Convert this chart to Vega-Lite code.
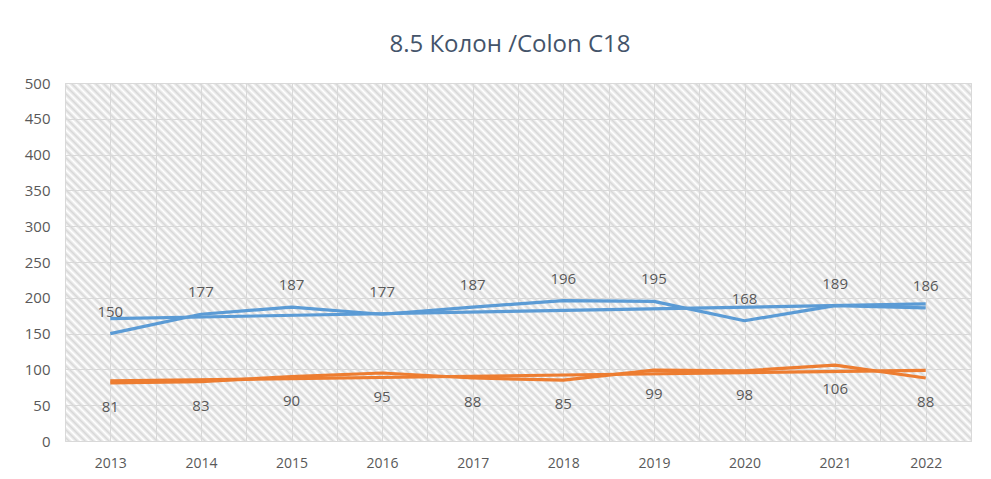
{
  "$schema": "https://vega.github.io/schema/vega-lite/v6.json",
  "width": 906,
  "height": 358,
  "autosize": {"type": "none"},
  "padding": {"left": 65, "top": 83, "right": 20, "bottom": 38},
  "background": "white",
  "title": {"text": "8.5 Колон /Colon C18", "anchor": "middle", "dx": -8, "offset": 0, "baseline": "alphabetic", "font": "Open Sans", "fontSize": 24, "fontWeight": "normal", "color": "#44546a"},
  "config": {
    "view": {
      "stroke": "#d9d9d9",
      "fill": {"gradient": "linear", "x1": 0, "y1": 1, "x2": 1.222, "y2": 0.5171, "stops": [
        {"offset":0,"color":"#fff"},{"offset":0.003125,"color":"#d8d8d8"},{"offset":0.00625,"color":"#fff"},{"offset":0.009375,"color":"#d8d8d8"},{"offset":0.0125,"color":"#fff"},{"offset":0.015625,"color":"#d8d8d8"},{"offset":0.01875,"color":"#fff"},{"offset":0.021875,"color":"#d8d8d8"},
        {"offset":0.025,"color":"#fff"},{"offset":0.028125,"color":"#d8d8d8"},{"offset":0.03125,"color":"#fff"},{"offset":0.034375,"color":"#d8d8d8"},{"offset":0.0375,"color":"#fff"},{"offset":0.040625,"color":"#d8d8d8"},{"offset":0.04375,"color":"#fff"},{"offset":0.046875,"color":"#d8d8d8"},
        {"offset":0.05,"color":"#fff"},{"offset":0.053125,"color":"#d8d8d8"},{"offset":0.05625,"color":"#fff"},{"offset":0.059375,"color":"#d8d8d8"},{"offset":0.0625,"color":"#fff"},{"offset":0.065625,"color":"#d8d8d8"},{"offset":0.06875,"color":"#fff"},{"offset":0.071875,"color":"#d8d8d8"},
        {"offset":0.075,"color":"#fff"},{"offset":0.078125,"color":"#d8d8d8"},{"offset":0.08125,"color":"#fff"},{"offset":0.084375,"color":"#d8d8d8"},{"offset":0.0875,"color":"#fff"},{"offset":0.090625,"color":"#d8d8d8"},{"offset":0.09375,"color":"#fff"},{"offset":0.096875,"color":"#d8d8d8"},
        {"offset":0.1,"color":"#fff"},{"offset":0.103125,"color":"#d8d8d8"},{"offset":0.10625,"color":"#fff"},{"offset":0.109375,"color":"#d8d8d8"},{"offset":0.1125,"color":"#fff"},{"offset":0.115625,"color":"#d8d8d8"},{"offset":0.11875,"color":"#fff"},{"offset":0.121875,"color":"#d8d8d8"},
        {"offset":0.125,"color":"#fff"},{"offset":0.128125,"color":"#d8d8d8"},{"offset":0.13125,"color":"#fff"},{"offset":0.134375,"color":"#d8d8d8"},{"offset":0.1375,"color":"#fff"},{"offset":0.140625,"color":"#d8d8d8"},{"offset":0.14375,"color":"#fff"},{"offset":0.146875,"color":"#d8d8d8"},
        {"offset":0.15,"color":"#fff"},{"offset":0.153125,"color":"#d8d8d8"},{"offset":0.15625,"color":"#fff"},{"offset":0.159375,"color":"#d8d8d8"},{"offset":0.1625,"color":"#fff"},{"offset":0.165625,"color":"#d8d8d8"},{"offset":0.16875,"color":"#fff"},{"offset":0.171875,"color":"#d8d8d8"},
        {"offset":0.175,"color":"#fff"},{"offset":0.178125,"color":"#d8d8d8"},{"offset":0.18125,"color":"#fff"},{"offset":0.184375,"color":"#d8d8d8"},{"offset":0.1875,"color":"#fff"},{"offset":0.190625,"color":"#d8d8d8"},{"offset":0.19375,"color":"#fff"},{"offset":0.196875,"color":"#d8d8d8"},
        {"offset":0.2,"color":"#fff"},{"offset":0.203125,"color":"#d8d8d8"},{"offset":0.20625,"color":"#fff"},{"offset":0.209375,"color":"#d8d8d8"},{"offset":0.2125,"color":"#fff"},{"offset":0.215625,"color":"#d8d8d8"},{"offset":0.21875,"color":"#fff"},{"offset":0.221875,"color":"#d8d8d8"},
        {"offset":0.225,"color":"#fff"},{"offset":0.228125,"color":"#d8d8d8"},{"offset":0.23125,"color":"#fff"},{"offset":0.234375,"color":"#d8d8d8"},{"offset":0.2375,"color":"#fff"},{"offset":0.240625,"color":"#d8d8d8"},{"offset":0.24375,"color":"#fff"},{"offset":0.246875,"color":"#d8d8d8"},
        {"offset":0.25,"color":"#fff"},{"offset":0.253125,"color":"#d8d8d8"},{"offset":0.25625,"color":"#fff"},{"offset":0.259375,"color":"#d8d8d8"},{"offset":0.2625,"color":"#fff"},{"offset":0.265625,"color":"#d8d8d8"},{"offset":0.26875,"color":"#fff"},{"offset":0.271875,"color":"#d8d8d8"},
        {"offset":0.275,"color":"#fff"},{"offset":0.278125,"color":"#d8d8d8"},{"offset":0.28125,"color":"#fff"},{"offset":0.284375,"color":"#d8d8d8"},{"offset":0.2875,"color":"#fff"},{"offset":0.290625,"color":"#d8d8d8"},{"offset":0.29375,"color":"#fff"},{"offset":0.296875,"color":"#d8d8d8"},
        {"offset":0.3,"color":"#fff"},{"offset":0.303125,"color":"#d8d8d8"},{"offset":0.30625,"color":"#fff"},{"offset":0.309375,"color":"#d8d8d8"},{"offset":0.3125,"color":"#fff"},{"offset":0.315625,"color":"#d8d8d8"},{"offset":0.31875,"color":"#fff"},{"offset":0.321875,"color":"#d8d8d8"},
        {"offset":0.325,"color":"#fff"},{"offset":0.328125,"color":"#d8d8d8"},{"offset":0.33125,"color":"#fff"},{"offset":0.334375,"color":"#d8d8d8"},{"offset":0.3375,"color":"#fff"},{"offset":0.340625,"color":"#d8d8d8"},{"offset":0.34375,"color":"#fff"},{"offset":0.346875,"color":"#d8d8d8"},
        {"offset":0.35,"color":"#fff"},{"offset":0.353125,"color":"#d8d8d8"},{"offset":0.35625,"color":"#fff"},{"offset":0.359375,"color":"#d8d8d8"},{"offset":0.3625,"color":"#fff"},{"offset":0.365625,"color":"#d8d8d8"},{"offset":0.36875,"color":"#fff"},{"offset":0.371875,"color":"#d8d8d8"},
        {"offset":0.375,"color":"#fff"},{"offset":0.378125,"color":"#d8d8d8"},{"offset":0.38125,"color":"#fff"},{"offset":0.384375,"color":"#d8d8d8"},{"offset":0.3875,"color":"#fff"},{"offset":0.390625,"color":"#d8d8d8"},{"offset":0.39375,"color":"#fff"},{"offset":0.396875,"color":"#d8d8d8"},
        {"offset":0.4,"color":"#fff"},{"offset":0.403125,"color":"#d8d8d8"},{"offset":0.40625,"color":"#fff"},{"offset":0.409375,"color":"#d8d8d8"},{"offset":0.4125,"color":"#fff"},{"offset":0.415625,"color":"#d8d8d8"},{"offset":0.41875,"color":"#fff"},{"offset":0.421875,"color":"#d8d8d8"},
        {"offset":0.425,"color":"#fff"},{"offset":0.428125,"color":"#d8d8d8"},{"offset":0.43125,"color":"#fff"},{"offset":0.434375,"color":"#d8d8d8"},{"offset":0.4375,"color":"#fff"},{"offset":0.440625,"color":"#d8d8d8"},{"offset":0.44375,"color":"#fff"},{"offset":0.446875,"color":"#d8d8d8"},
        {"offset":0.45,"color":"#fff"},{"offset":0.453125,"color":"#d8d8d8"},{"offset":0.45625,"color":"#fff"},{"offset":0.459375,"color":"#d8d8d8"},{"offset":0.4625,"color":"#fff"},{"offset":0.465625,"color":"#d8d8d8"},{"offset":0.46875,"color":"#fff"},{"offset":0.471875,"color":"#d8d8d8"},
        {"offset":0.475,"color":"#fff"},{"offset":0.478125,"color":"#d8d8d8"},{"offset":0.48125,"color":"#fff"},{"offset":0.484375,"color":"#d8d8d8"},{"offset":0.4875,"color":"#fff"},{"offset":0.490625,"color":"#d8d8d8"},{"offset":0.49375,"color":"#fff"},{"offset":0.496875,"color":"#d8d8d8"},
        {"offset":0.5,"color":"#fff"},{"offset":0.503125,"color":"#d8d8d8"},{"offset":0.50625,"color":"#fff"},{"offset":0.509375,"color":"#d8d8d8"},{"offset":0.5125,"color":"#fff"},{"offset":0.515625,"color":"#d8d8d8"},{"offset":0.51875,"color":"#fff"},{"offset":0.521875,"color":"#d8d8d8"},
        {"offset":0.525,"color":"#fff"},{"offset":0.528125,"color":"#d8d8d8"},{"offset":0.53125,"color":"#fff"},{"offset":0.534375,"color":"#d8d8d8"},{"offset":0.5375,"color":"#fff"},{"offset":0.540625,"color":"#d8d8d8"},{"offset":0.54375,"color":"#fff"},{"offset":0.546875,"color":"#d8d8d8"},
        {"offset":0.55,"color":"#fff"},{"offset":0.553125,"color":"#d8d8d8"},{"offset":0.55625,"color":"#fff"},{"offset":0.559375,"color":"#d8d8d8"},{"offset":0.5625,"color":"#fff"},{"offset":0.565625,"color":"#d8d8d8"},{"offset":0.56875,"color":"#fff"},{"offset":0.571875,"color":"#d8d8d8"},
        {"offset":0.575,"color":"#fff"},{"offset":0.578125,"color":"#d8d8d8"},{"offset":0.58125,"color":"#fff"},{"offset":0.584375,"color":"#d8d8d8"},{"offset":0.5875,"color":"#fff"},{"offset":0.590625,"color":"#d8d8d8"},{"offset":0.59375,"color":"#fff"},{"offset":0.596875,"color":"#d8d8d8"},
        {"offset":0.6,"color":"#fff"},{"offset":0.603125,"color":"#d8d8d8"},{"offset":0.60625,"color":"#fff"},{"offset":0.609375,"color":"#d8d8d8"},{"offset":0.6125,"color":"#fff"},{"offset":0.615625,"color":"#d8d8d8"},{"offset":0.61875,"color":"#fff"},{"offset":0.621875,"color":"#d8d8d8"},
        {"offset":0.625,"color":"#fff"},{"offset":0.628125,"color":"#d8d8d8"},{"offset":0.63125,"color":"#fff"},{"offset":0.634375,"color":"#d8d8d8"},{"offset":0.6375,"color":"#fff"},{"offset":0.640625,"color":"#d8d8d8"},{"offset":0.64375,"color":"#fff"},{"offset":0.646875,"color":"#d8d8d8"},
        {"offset":0.65,"color":"#fff"},{"offset":0.653125,"color":"#d8d8d8"},{"offset":0.65625,"color":"#fff"},{"offset":0.659375,"color":"#d8d8d8"},{"offset":0.6625,"color":"#fff"},{"offset":0.665625,"color":"#d8d8d8"},{"offset":0.66875,"color":"#fff"},{"offset":0.671875,"color":"#d8d8d8"},
        {"offset":0.675,"color":"#fff"},{"offset":0.678125,"color":"#d8d8d8"},{"offset":0.68125,"color":"#fff"},{"offset":0.684375,"color":"#d8d8d8"},{"offset":0.6875,"color":"#fff"},{"offset":0.690625,"color":"#d8d8d8"},{"offset":0.69375,"color":"#fff"},{"offset":0.696875,"color":"#d8d8d8"},
        {"offset":0.7,"color":"#fff"},{"offset":0.703125,"color":"#d8d8d8"},{"offset":0.70625,"color":"#fff"},{"offset":0.709375,"color":"#d8d8d8"},{"offset":0.7125,"color":"#fff"},{"offset":0.715625,"color":"#d8d8d8"},{"offset":0.71875,"color":"#fff"},{"offset":0.721875,"color":"#d8d8d8"},
        {"offset":0.725,"color":"#fff"},{"offset":0.728125,"color":"#d8d8d8"},{"offset":0.73125,"color":"#fff"},{"offset":0.734375,"color":"#d8d8d8"},{"offset":0.7375,"color":"#fff"},{"offset":0.740625,"color":"#d8d8d8"},{"offset":0.74375,"color":"#fff"},{"offset":0.746875,"color":"#d8d8d8"},
        {"offset":0.75,"color":"#fff"},{"offset":0.753125,"color":"#d8d8d8"},{"offset":0.75625,"color":"#fff"},{"offset":0.759375,"color":"#d8d8d8"},{"offset":0.7625,"color":"#fff"},{"offset":0.765625,"color":"#d8d8d8"},{"offset":0.76875,"color":"#fff"},{"offset":0.771875,"color":"#d8d8d8"},
        {"offset":0.775,"color":"#fff"},{"offset":0.778125,"color":"#d8d8d8"},{"offset":0.78125,"color":"#fff"},{"offset":0.784375,"color":"#d8d8d8"},{"offset":0.7875,"color":"#fff"},{"offset":0.790625,"color":"#d8d8d8"},{"offset":0.79375,"color":"#fff"},{"offset":0.796875,"color":"#d8d8d8"},
        {"offset":0.8,"color":"#fff"},{"offset":0.803125,"color":"#d8d8d8"},{"offset":0.80625,"color":"#fff"},{"offset":0.809375,"color":"#d8d8d8"},{"offset":0.8125,"color":"#fff"},{"offset":0.815625,"color":"#d8d8d8"},{"offset":0.81875,"color":"#fff"},{"offset":0.821875,"color":"#d8d8d8"},
        {"offset":0.825,"color":"#fff"},{"offset":0.828125,"color":"#d8d8d8"},{"offset":0.83125,"color":"#fff"},{"offset":0.834375,"color":"#d8d8d8"},{"offset":0.8375,"color":"#fff"},{"offset":0.840625,"color":"#d8d8d8"},{"offset":0.84375,"color":"#fff"},{"offset":0.846875,"color":"#d8d8d8"},
        {"offset":0.85,"color":"#fff"},{"offset":0.853125,"color":"#d8d8d8"},{"offset":0.85625,"color":"#fff"},{"offset":0.859375,"color":"#d8d8d8"},{"offset":0.8625,"color":"#fff"},{"offset":0.865625,"color":"#d8d8d8"},{"offset":0.86875,"color":"#fff"},{"offset":0.871875,"color":"#d8d8d8"},
        {"offset":0.875,"color":"#fff"},{"offset":0.878125,"color":"#d8d8d8"},{"offset":0.88125,"color":"#fff"},{"offset":0.884375,"color":"#d8d8d8"},{"offset":0.8875,"color":"#fff"},{"offset":0.890625,"color":"#d8d8d8"},{"offset":0.89375,"color":"#fff"},{"offset":0.896875,"color":"#d8d8d8"},
        {"offset":0.9,"color":"#fff"},{"offset":0.903125,"color":"#d8d8d8"},{"offset":0.90625,"color":"#fff"},{"offset":0.909375,"color":"#d8d8d8"},{"offset":0.9125,"color":"#fff"},{"offset":0.915625,"color":"#d8d8d8"},{"offset":0.91875,"color":"#fff"},{"offset":0.921875,"color":"#d8d8d8"},
        {"offset":0.925,"color":"#fff"},{"offset":0.928125,"color":"#d8d8d8"},{"offset":0.93125,"color":"#fff"},{"offset":0.934375,"color":"#d8d8d8"},{"offset":0.9375,"color":"#fff"},{"offset":0.940625,"color":"#d8d8d8"},{"offset":0.94375,"color":"#fff"},{"offset":0.946875,"color":"#d8d8d8"},
        {"offset":0.95,"color":"#fff"},{"offset":0.953125,"color":"#d8d8d8"},{"offset":0.95625,"color":"#fff"},{"offset":0.959375,"color":"#d8d8d8"},{"offset":0.9625,"color":"#fff"},{"offset":0.965625,"color":"#d8d8d8"},{"offset":0.96875,"color":"#fff"},{"offset":0.971875,"color":"#d8d8d8"},
        {"offset":0.975,"color":"#fff"},{"offset":0.978125,"color":"#d8d8d8"},{"offset":0.98125,"color":"#fff"},{"offset":0.984375,"color":"#d8d8d8"},{"offset":0.9875,"color":"#fff"},{"offset":0.990625,"color":"#d8d8d8"},{"offset":0.99375,"color":"#fff"},{"offset":0.996875,"color":"#d8d8d8"},
        {"offset":1,"color":"#fff"}
      ]}
    }
  },
  "data": {"values": [
    {"year": 2013, "series": "s1", "value": 150},
    {"year": 2014, "series": "s1", "value": 177},
    {"year": 2015, "series": "s1", "value": 187},
    {"year": 2016, "series": "s1", "value": 177},
    {"year": 2017, "series": "s1", "value": 187},
    {"year": 2018, "series": "s1", "value": 196},
    {"year": 2019, "series": "s1", "value": 195},
    {"year": 2020, "series": "s1", "value": 168},
    {"year": 2021, "series": "s1", "value": 189},
    {"year": 2022, "series": "s1", "value": 186},
    {"year": 2013, "series": "s2", "value": 81},
    {"year": 2014, "series": "s2", "value": 83},
    {"year": 2015, "series": "s2", "value": 90},
    {"year": 2016, "series": "s2", "value": 95},
    {"year": 2017, "series": "s2", "value": 88},
    {"year": 2018, "series": "s2", "value": 85},
    {"year": 2019, "series": "s2", "value": 99},
    {"year": 2020, "series": "s2", "value": 98},
    {"year": 2021, "series": "s2", "value": 106},
    {"year": 2022, "series": "s2", "value": 88}
  ]},
  "resolve": {"axis": {"x": "independent"}},
  "encoding": {
    "y": {
      "field": "value", "type": "quantitative",
      "scale": {"domain": [0, 500], "nice": false},
      "axis": {
        "values": [0, 50, 100, 150, 200, 250, 300, 350, 400, 450, 500],
        "title": null, "grid": true, "gridColor": "#d9d9d9", "ticks": false, "domain": false,
        "labelPadding": 15, "labelFont": "Open Sans", "labelFontSize": 15, "labelColor": "#595959"
      }
    }
  },
  "layer": [
    {
      "mark": {"type": "line", "strokeWidth": 3.2, "strokeJoin": "round"},
      "encoding": {
        "x": {
          "field": "year", "type": "quantitative",
          "scale": {"domain": [2012.5, 2022.5], "nice": false, "zero": false},
          "axis": {
            "values": [2013, 2014, 2015, 2016, 2017, 2018, 2019, 2020, 2021, 2022],
            "format": "d", "labelOverlap": false, "orient": "bottom",
            "title": null, "grid": true, "gridColor": "#d9d9d9", "ticks": false, "domain": false,
            "labelPadding": 15, "labelFont": "Open Sans", "labelFontSize": 14, "labelColor": "#595959"
          }
        },
        "color": {"field": "series", "type": "nominal", "scale": {"domain": ["s1", "s2"], "range": ["#5b9bd5", "#ed7d31"]}, "legend": null}
      }
    },
    {
      "transform": [{"regression": "value", "on": "year", "groupby": ["series"], "method": "linear", "extent": [2013, 2022]}],
      "mark": {"type": "line", "strokeWidth": 3.2, "strokeJoin": "round"},
      "encoding": {
        "x": {
          "field": "year", "type": "quantitative",
          "scale": {"domain": [2012.5, 2022.5], "nice": false, "zero": false},
          "axis": {
            "values": [2012.5, 2013.5, 2014.5, 2015.5, 2016.5, 2017.5, 2018.5, 2019.5, 2020.5, 2021.5, 2022.5],
            "orient": "top", "labels": false,
            "title": null, "grid": true, "gridColor": "#d9d9d9", "ticks": false, "domain": false
          }
        },
        "color": {"field": "series", "type": "nominal", "scale": {"domain": ["s1", "s2"], "range": ["#5b9bd5", "#ed7d31"]}, "legend": null}
      }
    },
    {
      "transform": [{"filter": "datum.series === 's1'"}],
      "mark": {"type": "text", "dy": -22, "font": "Open Sans", "fontSize": 15, "color": "#595959", "baseline": "middle"},
      "encoding": {
        "x": {"field": "year", "type": "quantitative", "axis": null},
        "text": {"field": "value", "type": "quantitative"}
      }
    },
    {
      "transform": [{"filter": "datum.series === 's2'"}],
      "mark": {"type": "text", "dy": 24, "font": "Open Sans", "fontSize": 15, "color": "#595959", "baseline": "middle"},
      "encoding": {
        "x": {"field": "year", "type": "quantitative", "axis": null},
        "text": {"field": "value", "type": "quantitative"}
      }
    }
  ]
}
